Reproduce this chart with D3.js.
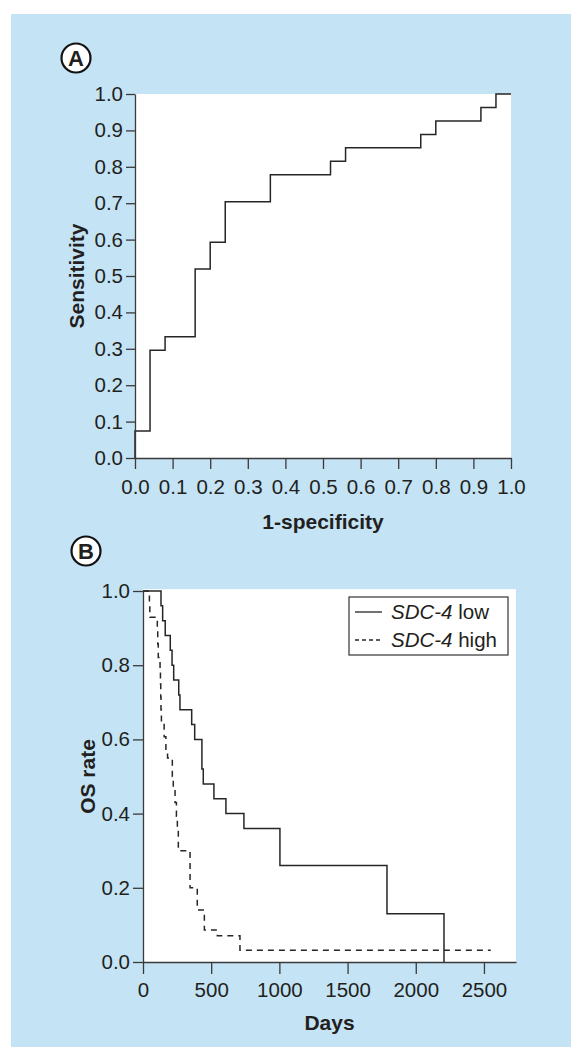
<!DOCTYPE html>
<html>
<head>
<meta charset="utf-8">
<script src="https://cdn.jsdelivr.net/npm/d3@7"></script>
<style>
  html, body { margin: 0; padding: 0; background: #fff; }
  svg { display: block; }
  text { font-family: "Liberation Sans", Arial, Helvetica, sans-serif; fill: #231f20; }
</style>
</head>
<body>
<div id="chart"></div>
<script>
// Panel A: ROC curve (1-specificity, sensitivity)
var rocFpr  = [0, 0, 0.04, 0.04, 0.08, 0.08, 0.16, 0.16, 0.20, 0.20, 0.24, 0.24, 0.36, 0.36, 0.52, 0.52, 0.56, 0.56, 0.76, 0.76, 0.80, 0.80, 0.92, 0.92, 0.96, 0.96, 1.0];
var rocSens = [0, 0.074, 0.074, 0.296, 0.296, 0.333, 0.333, 0.519, 0.519, 0.593, 0.593, 0.704, 0.704, 0.778, 0.778, 0.815, 0.815, 0.852, 0.852, 0.889, 0.889, 0.926, 0.926, 0.963, 0.963, 1.0, 1.0];
var rocTicks = [0, 0.1, 0.2, 0.3, 0.4, 0.5, 0.6, 0.7, 0.8, 0.9, 1.0];

// Panel B: Kaplan-Meier, event day -> survival after it
var lowDays = [0, 132, 144, 163, 200, 213, 225, 262, 271, 357, 379, 432, 442, 520, 608, 740, 1004, 1789, 2207];
var lowSurv = [1.0, 0.96, 0.92, 0.88, 0.84, 0.80, 0.76, 0.72, 0.68, 0.64, 0.60, 0.52, 0.48, 0.44, 0.40, 0.36, 0.26, 0.13, 0.0];
var lowEnd = 2207;
var highDays = [0, 47, 50, 105, 108, 112, 125, 128, 130, 132, 135, 155, 168, 180, 215, 222, 235, 245, 252, 259, 345, 398, 450, 545, 711];
var highSurv = [1.0, 0.964, 0.929, 0.893, 0.857, 0.821, 0.786, 0.75, 0.714, 0.679, 0.645, 0.607, 0.571, 0.55, 0.50, 0.464, 0.43, 0.393, 0.357, 0.30, 0.20, 0.14, 0.086, 0.071, 0.032];
var highEnd = 2550;
var daysTicks = [0, 500, 1000, 1500, 2000, 2500];
var osTicks = [0, 0.2, 0.4, 0.6, 0.8, 1.0];
var seriesNames = ["low", "high"];

var W = 571, H = 1049;
var ink = "#262626";

var svg = d3.select("#chart").append("svg")
  .attr("width", W).attr("height", H);

svg.append("rect")
  .attr("x", 11).attr("y", 14)
  .attr("width", W - 11).attr("height", H - 16)
  .attr("fill", "#c4e4f6");

function styleAxis(g) {
  g.selectAll("path, line").attr("stroke", "#3a3a3a").attr("stroke-width", 1.3);
  g.selectAll("text")
    .attr("fill", "#231f20")
    .style("font-size", "20.5px")
    .style("font-family", '"Liberation Sans", Arial, sans-serif');
}

function panelLabel(cx, cy, letter) {
  svg.append("circle").attr("cx", cx).attr("cy", cy).attr("r", 14.5)
    .attr("fill", "#fff").attr("stroke", "#111").attr("stroke-width", 2.2);
  svg.append("text").attr("x", cx).attr("y", cy + 8)
    .attr("text-anchor", "middle")
    .style("font-size", "22px").style("font-weight", "bold")
    .text(letter);
}

// ---------- panel A ----------
var xA = d3.scaleLinear().domain([0, 1]).range([135, 511]);
var yA = d3.scaleLinear().domain([0, 1]).range([458, 94]);

svg.append("rect")
  .attr("x", xA(0)).attr("y", yA(1))
  .attr("width", xA(1) - xA(0)).attr("height", yA(0) - yA(1))
  .attr("fill", "#fff");

var rocLine = d3.line()
  .x(function(d, i) { return xA(rocFpr[i]); })
  .y(function(d, i) { return yA(rocSens[i]); });

svg.append("path")
  .attr("d", rocLine(rocFpr))
  .attr("fill", "none")
  .attr("stroke", ink)
  .attr("stroke-width", 1.5);

svg.append("g")
  .attr("transform", "translate(" + xA(0) + ",0)")
  .call(d3.axisLeft(yA).tickValues(rocTicks).tickFormat(d3.format(".1f"))
        .tickSize(9).tickSizeOuter(0).tickPadding(3))
  .call(styleAxis);

svg.append("g")
  .attr("transform", "translate(0," + yA(0) + ")")
  .call(d3.axisBottom(xA).tickValues(rocTicks).tickFormat(d3.format(".1f"))
        .tickSize(11).tickSizeOuter(0).tickPadding(10))
  .call(styleAxis);

svg.append("text")
  .attr("x", (xA(0) + xA(1)) / 2).attr("y", 529)
  .attr("text-anchor", "middle")
  .style("font-size", "21px").style("font-weight", "bold")
  .text("1-specificity");

svg.append("text")
  .attr("transform", "translate(84," + (yA(0) + yA(1)) / 2 + ") rotate(-90)")
  .attr("text-anchor", "middle")
  .style("font-size", "21px").style("font-weight", "bold")
  .text("Sensitivity");

panelLabel(76, 58, "A");

// ---------- panel B ----------
var xB = d3.scaleLinear().domain([0, 2735]).range([143, 516]);
var yB = d3.scaleLinear().domain([0, 1]).range([962, 591]);

svg.append("rect")
  .attr("x", xB(0)).attr("y", yB(1.005))
  .attr("width", xB(2735) - xB(0)).attr("height", yB(0) - yB(1.005))
  .attr("fill", "#fff");

function kmPoints(days, surv, end) {
  var pts = [];
  for (var i = 0; i < days.length; i++) {
    if (i > 0) pts.push([days[i], surv[i - 1]]);
    pts.push([days[i], surv[i]]);
  }
  pts.push([end, surv[surv.length - 1]]);
  return pts;
}

var kmLine = d3.line()
  .x(function(d) { return xB(d[0]); })
  .y(function(d) { return yB(d[1]); });

var series = {
  low:  { pts: kmPoints(lowDays, lowSurv, lowEnd), dash: null },
  high: { pts: kmPoints(highDays, highSurv, highEnd), dash: "6,5" }
};

seriesNames.slice().reverse().forEach(function(name) {
  svg.append("path")
    .attr("d", kmLine(series[name].pts))
    .attr("fill", "none")
    .attr("stroke", ink)
    .attr("stroke-width", 1.5)
    .style("stroke-dasharray", series[name].dash);
});

svg.append("g")
  .attr("transform", "translate(" + xB(0) + ",0)")
  .call(d3.axisLeft(yB).tickValues(osTicks).tickFormat(d3.format(".1f"))
        .tickSize(10).tickSizeOuter(0).tickPadding(3))
  .call(styleAxis);

svg.append("g")
  .attr("transform", "translate(0," + yB(0) + ")")
  .call(d3.axisBottom(xB).tickValues(daysTicks).tickFormat(d3.format("d"))
        .tickSize(12).tickSizeOuter(0).tickPadding(8))
  .call(styleAxis);

svg.append("text")
  .attr("x", (xB(0) + xB(2735)) / 2).attr("y", 1030)
  .attr("text-anchor", "middle")
  .style("font-size", "21px").style("font-weight", "bold")
  .text("Days");

svg.append("text")
  .attr("transform", "translate(95," + (yB(0) + yB(1)) / 2 + ") rotate(-90)")
  .attr("text-anchor", "middle")
  .style("font-size", "21px").style("font-weight", "bold")
  .text("OS rate");

panelLabel(86, 551, "B");

// legend
var legend = svg.append("g").attr("transform", "translate(349,597)");
legend.append("rect")
  .attr("width", 159).attr("height", 58)
  .attr("fill", "#fff").attr("stroke", "#333").attr("stroke-width", 1.2);

seriesNames.forEach(function(name, i) {
  var ly = 15 + i * 28;
  legend.append("line")
    .attr("x1", 6).attr("x2", 33).attr("y1", ly).attr("y2", ly)
    .attr("stroke", ink).attr("stroke-width", 1.3)
    .style("stroke-dasharray", series[name].dash ? "4,3" : null);
  var t = legend.append("text").attr("x", 42).attr("y", ly + 7)
    .style("font-size", "20.5px");
  t.append("tspan").style("font-style", "italic").text("SDC-4");
  t.append("tspan").text(" " + name);
});
</script>
</body>
</html>
